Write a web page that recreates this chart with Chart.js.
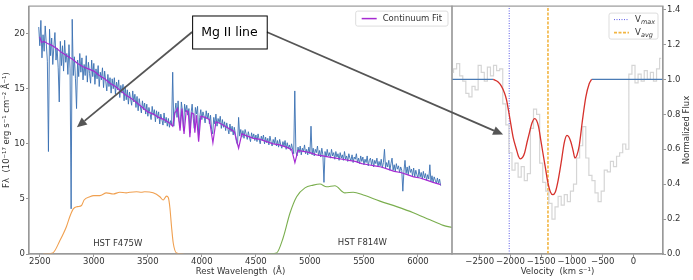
<!DOCTYPE html>
<html>
<head>
<meta charset="utf-8">
<script src="https://cdn.jsdelivr.net/npm/chart.js@4.4.0/dist/chart.umd.min.js"></script>
<style>
  html, body { margin: 0; padding: 0; background: #fff; }
  #wrap { position: relative; width: 693px; height: 280px; }
  canvas { position: absolute; left: 0; top: 0; }
</style>
</head>
<body>
<div id="wrap">
  <canvas id="spec" width="693" height="280"></canvas>
  <canvas id="vel" width="693" height="280"></canvas>
</div>
<script>
// ---- left panel: spectrum (10 A bins from 2490 A) ----
const specStart = 2490, specStep = 10;
const specFlux = [
  20.6, 18.9, 21.2, 17.8, 19.9, 18.4, 20.7, 19.1, 17.5, 9.3,
  20.4, 18.0, 19.6, 17.2, 18.8, 20.1, 17.6, 18.7, 16.9, 13.8,
  19.3, 17.1, 18.9, 16.6, 19.4, 17.4, 18.2, 16.3, 19.0, 16.8,
  4.1, 21.3, 16.2, 17.9, 15.9, 13.2, 17.6, 16.1, 18.2, 16.5,
  17.8, 15.8, 17.2, 16.2, 18.0, 15.6, 17.4, 16.4, 15.5, 17.6,
  16.1, 17.3, 15.4, 16.8, 15.9, 17.1, 15.2, 16.5, 15.8, 16.9,
  15.1, 16.6, 15.7, 14.8, 16.3, 15.2, 16.0, 14.6, 15.9, 15.0,
  16.0, 14.5, 15.6, 14.9, 15.8, 14.2, 15.3, 14.6, 15.4, 13.9,
  15.2, 14.0, 14.9, 13.6, 14.7, 14.1, 13.5, 14.8, 13.8, 14.5,
  13.3, 14.3, 13.0, 14.1, 13.4, 12.8, 13.9, 13.1, 13.7, 12.7,
  13.6, 12.5, 13.3, 12.8, 12.2, 13.4, 12.6, 13.1, 12.0, 13.0,
  12.3, 12.9, 11.8, 12.7, 12.2, 11.7, 12.8, 11.9, 12.4, 11.6,
  12.3, 11.5, 12.1, 11.7, 16.5, 11.6, 12.9, 13.7, 12.4, 13.9,
  12.1, 11.5, 13.8, 13.0, 11.2, 13.6, 12.9, 13.5, 12.6, 13.2,
  11.0, 12.8, 13.6, 12.3, 11.4, 13.3, 12.7, 13.4, 10.8, 12.4,
  13.1, 12.2, 12.9, 12.5, 11.9, 13.0, 12.3, 12.8, 11.8, 12.6,
  11.3, 10.9, 12.4, 11.8, 12.7, 11.6, 12.3, 11.9, 12.5, 11.4,
  12.2, 11.5, 12.0, 11.2, 11.9, 11.4, 10.9, 11.8, 11.1, 11.6,
  10.8, 11.5, 10.9, 10.2, 9.9, 12.4, 10.7, 11.3, 10.6, 11.2,
  10.5, 11.3, 10.9, 10.4, 11.1, 10.6, 10.2, 11.0, 10.5, 10.9,
  10.3, 10.8, 10.2, 10.9, 10.4, 10.0, 10.7, 10.3, 10.8, 10.0,
  10.6, 10.1, 10.5, 9.9, 10.7, 10.2, 9.8, 10.4, 10.0, 10.6,
  9.8, 10.3, 9.7, 10.4, 9.9, 9.6, 10.2, 9.8, 10.3, 9.5,
  10.1, 9.6, 9.9, 9.4, 10.0, 9.5, 9.1, 14.8, 9.3, 8.9,
  9.7, 9.2, 9.8, 9.0, 9.6, 9.3, 9.9, 9.1, 9.5, 9.0,
  9.7, 9.1, 11.6, 9.0, 9.6, 8.9, 9.5, 9.2, 9.8, 8.9,
  9.4, 8.8, 9.6, 9.0, 6.5, 9.3, 8.8, 9.5, 8.9, 9.2,
  8.7, 9.5, 8.9, 9.2, 8.6, 9.3, 8.8, 9.1, 8.5, 9.2,
  8.7, 9.0, 8.5, 9.3, 8.6, 8.9, 8.4, 9.1, 8.7, 8.5,
  9.0, 8.3, 8.8, 8.6, 9.1, 8.3, 8.7, 8.2, 8.9, 8.4,
  8.8, 8.1, 8.6, 8.3, 8.9, 8.0, 8.5, 8.7, 8.1, 8.6,
  7.9, 8.5, 8.2, 8.7, 7.9, 8.4, 8.0, 8.6, 7.8, 8.3,
  9.5, 7.8, 8.3, 7.9, 8.5, 7.6, 8.2, 8.7, 7.6, 8.1,
  7.5, 8.2, 7.7, 8.0, 7.4, 7.9, 7.6, 5.7, 7.5, 8.5,
  7.3, 7.9, 7.2, 8.0, 7.4, 7.7, 7.1, 7.8, 7.0, 7.6,
  7.2, 6.9, 7.7, 7.0, 7.4, 6.8, 7.5, 6.9, 7.3, 6.7,
  7.2, 6.8, 8.1, 6.6, 7.1, 6.5, 7.0, 6.7, 6.4, 6.9,
  6.4, 6.8, 6.2
];
const contWave = [2500, 2515, 2540, 2570, 2600, 2650, 2700, 2750, 2800, 2850, 2900, 2950, 3000, 3050, 3100, 3150, 3200, 3250, 3300, 3350, 3400, 3450, 3500, 3550, 3600, 3650, 3700, 3730, 3750, 3775, 3798, 3815, 3835, 3855, 3875, 3889, 3905, 3925, 3935, 3950, 3970, 3990, 4030, 4070, 4102, 4130, 4180, 4230, 4300, 4340, 4370, 4420, 4480, 4540, 4600, 4660, 4720, 4780, 4830, 4861, 4890, 4950, 5000, 5060, 5120, 5180, 5240, 5300, 5360, 5420, 5480, 5540, 5600, 5660, 5720, 5780, 5840, 5900, 5960, 6020, 6080, 6140, 6210];
const contFlux = [19.7, 19.2, 19.3, 19.1, 19.0, 18.7, 18.3, 18.0, 17.7, 17.3, 17.0, 16.8, 16.6, 16.2, 15.9, 15.5, 15.2, 14.8, 14.4, 14.1, 13.7, 13.3, 12.9, 12.7, 12.4, 12.2, 11.9, 11.6, 12.8, 13.2, 11.2, 13.2, 10.9, 13.0, 12.9, 10.6, 12.8, 12.7, 11.0, 12.6, 10.2, 12.5, 12.4, 12.2, 10.1, 12.0, 11.8, 11.5, 11.1, 9.6, 10.9, 10.7, 10.5, 10.4, 10.2, 10.0, 9.9, 9.7, 9.5, 8.3, 9.4, 9.3, 9.2, 9.0, 8.9, 8.8, 8.7, 8.6, 8.5, 8.4, 8.2, 8.1, 8.0, 7.9, 7.7, 7.5, 7.4, 7.2, 7.0, 6.9, 6.7, 6.5, 6.3];
const f475Wave = [2530, 2620, 2685, 2747, 2778, 2810, 2850, 2886, 2910, 2963, 3000, 3056, 3117, 3180, 3240, 3300, 3333, 3395, 3440, 3472, 3549, 3611, 3642, 3673, 3690, 3704, 3719, 3735, 3765, 3830];
const f475Flux = [0, 0.1, 1.2, 2.5, 3.4, 4.1, 4.3, 4.4, 4.9, 5.2, 5.3, 5.3, 5.55, 5.45, 5.6, 5.55, 5.6, 5.65, 5.6, 5.65, 5.55, 5.2, 4.9, 5.25, 5.1, 4.2, 2.5, 1.0, 0.1, 0];
const f814Wave = [4599, 4691, 4753, 4815, 4877, 4954, 5031, 5093, 5154, 5231, 5324, 5401, 5494, 5648, 5803, 5957, 6111, 6234, 6318];
const f814Flux = [0, 0.1, 1.5, 3.7, 5.2, 6.0, 6.25, 6.35, 6.1, 6.2, 5.55, 5.6, 5.35, 4.8, 4.3, 3.75, 3.1, 2.6, 2.4];
const waveTicks = [2500, 3000, 3500, 4000, 4500, 5000, 5500, 6000];
const fluxTicks = [0, 5, 10, 15, 20];

// ---- right panel: velocity (50 km/s bins from -2950) ----
const velStart = -2950, velStep = 50;
const obsFlux = [
  1.04, 1.06, 1.09, 1.02, 0.99, 0.92, 0.90, 0.96, 0.94, 1.08,
  1.04, 0.99, 1.07, 1.02, 1.08, 1.05, 1.06, 0.86, 0.74, 0.58,
  0.48, 0.52, 0.44, 0.50, 0.42, 0.46, 0.72, 0.83, 0.80, 0.52,
  0.41, 0.36, 0.29, 0.20, 0.27, 0.33, 0.28, 0.34, 0.30, 0.36,
  0.40, 0.55, 0.62, 0.73, 0.55, 0.45, 0.42, 0.35, 0.30, 0.36,
  0.48, 0.47, 0.53, 0.50, 0.56, 0.58, 0.63, 0.60, 1.03, 1.08,
  0.98, 1.03, 0.99, 1.05, 1.00, 1.04, 0.99, 1.06, 1.12
];
const modelVel = [-2280, -2200, -2145, -2100, -2065, -2011, -1957, -1903, -1870, -1839, -1800, -1769, -1730, -1688, -1650, -1608, -1575, -1543, -1510, -1473, -1430, -1392, -1350, -1312, -1270, -1231, -1177, -1124, -1081, -1050, -1016, -980, -952, -920, -882, -828, -774, -720, -680];
const modelFlux = [1.0, 0.985, 0.96, 0.925, 0.885, 0.78, 0.67, 0.60, 0.56, 0.545, 0.555, 0.58, 0.64, 0.70, 0.75, 0.775, 0.765, 0.73, 0.66, 0.58, 0.49, 0.41, 0.355, 0.34, 0.355, 0.41, 0.52, 0.64, 0.68, 0.67, 0.64, 0.59, 0.55, 0.565, 0.62, 0.77, 0.90, 0.975, 1.0];
const contVel = [-2950, -2280, null, -680, 480];
const vMax = -2020, vAvg = -1390;
const velTicks = [-2500, -2000, -1500, -1000, -500, 0];
const normTicks = [0, 0.2, 0.4, 0.6, 0.8, 1.0, 1.2, 1.4];

Chart.defaults.font.family = "'DejaVu Sans', sans-serif";
Chart.defaults.font.size = 8.5;
Chart.defaults.color = '#333';

const pairs = (xs, ys) => xs.map((x, i) => ({ x: x, y: ys[i] }));
const FONT = "8.5px 'DejaVu Sans'";

const frame = {
  id: 'frame',
  afterDraw(chart) {
    const a = chart.chartArea, c = chart.ctx;
    c.save();
    c.strokeStyle = '#999';
    c.lineWidth = 1.2;
    c.strokeRect(a.left, a.top, a.right - a.left, a.bottom - a.top);
    c.restore();
  }
};

function legendBox(c, x, y, w, h) {
  c.save();
  c.beginPath();
  c.roundRect(x, y, w, h, 2);
  c.fillStyle = 'rgba(255,255,255,0.85)';
  c.fill();
  c.strokeStyle = '#ddd';
  c.lineWidth = 1;
  c.stroke();
  c.restore();
}

const specDecor = {
  id: 'specDecor',
  afterDraw(chart) {
    const c = chart.ctx, a = chart.chartArea, xs = chart.scales.x, ys = chart.scales.y;
    c.save();
    c.font = FONT;
    c.fillStyle = '#333';
    c.textAlign = 'center';
    c.textBaseline = 'middle';
    c.fillText(chart.data.datasets[2].label, xs.getPixelForValue(3222), ys.getPixelForValue(0.9));
    c.fillText(chart.data.datasets[3].label, xs.getPixelForValue(5486), ys.getPixelForValue(1.0));
    // legend
    const ds = chart.data.datasets[0];
    const tw = c.measureText(ds.label).width;
    const w = tw + 33, h = 15, x = a.right - 4 - w, y = a.top + 5;
    legendBox(c, x, y, w, h);
    c.strokeStyle = ds.borderColor;
    c.lineWidth = 1.5;
    c.beginPath(); c.moveTo(x + 6, y + h / 2); c.lineTo(x + 21, y + h / 2); c.stroke();
    c.textAlign = 'left';
    c.fillStyle = '#333';
    c.fillText(ds.label, x + 27, y + h / 2 + 0.5);
    c.restore();
  }
};

const specChart = new Chart(document.getElementById('spec'), {
  type: 'line',
  data: {
    datasets: [
      { label: 'Continuum Fit', data: pairs(contWave, contFlux), borderColor: '#a62bd2', borderWidth: 1.2, pointRadius: 0 },
      { label: 'Spectrum', data: pairs(specFlux.map((_, i) => specStart + specStep * i), specFlux), borderColor: 'rgba(58,112,178,0.9)', borderWidth: 1, pointRadius: 0 },
      { label: 'HST F475W', data: pairs(f475Wave, f475Flux), borderColor: '#f0a050', borderWidth: 1.1, pointRadius: 0, cubicInterpolationMode: 'monotone' },
      { label: 'HST F814W', data: pairs(f814Wave, f814Flux), borderColor: '#7aae4e', borderWidth: 1.1, pointRadius: 0, cubicInterpolationMode: 'monotone' }
    ]
  },
  options: {
    responsive: false,
    animation: false,
    events: [],
    layout: { padding: { left: 0, right: 241, top: 6, bottom: 0 } },
    plugins: { legend: { display: false }, tooltip: { enabled: false } },
    scales: {
      x: {
        type: 'linear', min: 2400, max: 6315,
        afterBuildTicks: s => { s.ticks = waveTicks.map(v => ({ value: v })); },
        afterFit: s => { s.height = 26; },
        grid: { drawOnChartArea: false, tickLength: 3, color: '#999' },
        border: { color: '#999', width: 1.2 },
        ticks: { maxRotation: 0, autoSkip: false, padding: 0, callback: v => String(v) },
        title: { display: true, text: 'Rest Wavelength  (Å)', padding: { top: 0, bottom: 3 } }
      },
      y: {
        type: 'linear', min: 0, max: 22.5,
        afterBuildTicks: s => { s.ticks = fluxTicks.map(v => ({ value: v })); },
        afterFit: s => { s.width = 29; },
        grid: { drawOnChartArea: false, tickLength: 3, color: '#999' },
        border: { color: '#999', width: 1.2 },
        ticks: { padding: 1, callback: v => String(v) },
        title: { display: true, text: 'Fλ  (10⁻¹⁷ erg s⁻¹ cm⁻² Å⁻¹)', padding: { top: 2, bottom: 0 } }
      }
    }
  },
  plugins: [frame, specDecor]
});

function arrow(c, x0, y0, x1, y1) {
  const ang = Math.atan2(y1 - y0, x1 - x0), L = 10, W = 4.5;
  const bx = x1 - L * Math.cos(ang), by = y1 - L * Math.sin(ang);
  c.beginPath(); c.moveTo(x0, y0); c.lineTo(bx, by); c.stroke();
  c.beginPath();
  c.moveTo(x1, y1);
  c.lineTo(bx + W * Math.sin(ang), by - W * Math.cos(ang));
  c.lineTo(bx - W * Math.sin(ang), by + W * Math.cos(ang));
  c.closePath();
  c.fill();
}

const velDecor = {
  id: 'velDecor',
  afterDraw(chart) {
    const c = chart.ctx, a = chart.chartArea, xs = chart.scales.x, ys = chart.scales.y;
    c.save();
    // right axis title
    c.font = FONT;
    c.fillStyle = '#333';
    c.textAlign = 'center';
    c.textBaseline = 'middle';
    c.translate(687, (a.top + a.bottom) / 2);
    c.rotate(-Math.PI / 2);
    c.fillText('Normalized Flux', 0, 0);
    c.restore();

    // legend
    c.save();
    const w = 49, h = 26, x = a.right - 5 - w, y = a.top + 7;
    legendBox(c, x, y, w, h);
    [[3, 'max'], [4, 'avg']].forEach(([k, sub], j) => {
      const ds = chart.data.datasets[k];
      const ly = y + 6.5 + j * 13;
      c.strokeStyle = ds.borderColor;
      c.lineWidth = ds.borderWidth;
      c.setLineDash(ds.borderDash);
      c.beginPath(); c.moveTo(x + 5, ly); c.lineTo(x + 20, ly); c.stroke();
      c.setLineDash([]);
      c.fillStyle = '#333';
      c.textBaseline = 'middle';
      c.font = FONT;
      c.fillText('V', x + 26, ly);
      c.font = "italic 6.5px 'DejaVu Sans'";
      c.fillText(sub, x + 32, ly + 2.5);
    });
    c.restore();

    // annotation
    const sx = specChart.scales.x, sy = specChart.scales.y;
    const cx = sx.getPixelForValue(4255), cy = sy.getPixelForValue(20.15);
    c.save();
    c.font = "12.5px 'DejaVu Sans'";
    const tw = c.measureText('Mg II line').width;
    const bw = tw + 18, bh = 33;
    const bl = cx - bw / 2, bt = cy - bh / 2;
    c.strokeStyle = '#555';
    c.fillStyle = '#555';
    c.lineWidth = 1.8;
    arrow(c, bl, cy, sx.getPixelForValue(2843), sy.getPixelForValue(11.5));
    arrow(c, bl + bw, cy, xs.getPixelForValue(-2119), ys.getPixelForValue(0.684));
    c.fillStyle = '#fff';
    c.fillRect(bl, bt, bw, bh);
    c.strokeStyle = '#000';
    c.lineWidth = 1;
    c.strokeRect(bl + 0.5, bt + 0.5, bw, bh);
    c.fillStyle = '#000';
    c.textAlign = 'center';
    c.textBaseline = 'middle';
    c.fillText('Mg II line', cx, cy + 0.5);
    c.restore();
  }
};

const velChart = new Chart(document.getElementById('vel'), {
  type: 'line',
  data: {
    datasets: [
      { label: 'Model', data: pairs(modelVel, modelFlux), borderColor: '#d6312c', borderWidth: 1.3, pointRadius: 0, cubicInterpolationMode: 'monotone' },
      { label: 'Continuum', data: pairs(contVel, [1, 1, null, 1, 1]), borderColor: '#4a7bb5', borderWidth: 1.3, pointRadius: 0, spanGaps: false },
      { label: 'Data', data: pairs(obsFlux.map((_, i) => velStart + velStep * i), obsFlux), borderColor: '#d5d5d5', borderWidth: 1.2, pointRadius: 0, stepped: 'middle' },
      { label: 'Vmax', data: pairs([vMax, vMax], [0, 1.42]), borderColor: '#5a5ae6', borderWidth: 1, borderDash: [1, 1.5], pointRadius: 0 },
      { label: 'Vavg', data: pairs([vAvg, vAvg], [0, 1.42]), borderColor: '#f2b542', borderWidth: 1.6, borderDash: [3, 1.5], pointRadius: 0 }
    ]
  },
  options: {
    responsive: false,
    animation: false,
    events: [],
    layout: { padding: { left: 452, right: 0, top: 6, bottom: 0 } },
    plugins: { legend: { display: false }, tooltip: { enabled: false } },
    scales: {
      x: {
        type: 'linear', min: -2950, max: 480,
        afterBuildTicks: s => { s.ticks = velTicks.map(v => ({ value: v })); },
        afterFit: s => { s.height = 26; },
        grid: { drawOnChartArea: false, tickLength: 3, color: '#999' },
        border: { color: '#999', width: 1.2 },
        ticks: { maxRotation: 0, autoSkip: false, padding: 0, callback: v => v < 0 ? '−' + Math.abs(v) : String(v) },
        title: { display: true, text: 'Velocity  (km s⁻¹)', padding: { top: 0, bottom: 3 } }
      },
      y: {
        type: 'linear', position: 'right', min: 0, max: 1.42,
        afterBuildTicks: s => { s.ticks = normTicks.map(v => ({ value: v })); },
        afterFit: s => { s.width = 30; },
        grid: { drawOnChartArea: false, tickLength: 3, color: '#999' },
        border: { color: '#999', width: 1.2 },
        ticks: { padding: 1, callback: v => v.toFixed(1) }
      }
    }
  },
  plugins: [frame, velDecor]
});
</script>
</body>
</html>
